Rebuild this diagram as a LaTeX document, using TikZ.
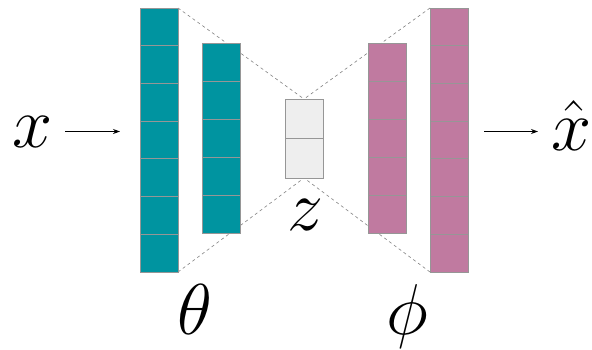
\documentclass[tikz,border=0pt]{standalone}
\usetikzlibrary{calc,backgrounds,arrows.meta}
\definecolor{encc}{RGB}{0,148,160}
\definecolor{decc}{RGB}{192,122,160}
\definecolor{zc}{RGB}{238,238,238}
\definecolor{edgec}{RGB}{150,150,150}
\begin{document}
\begin{tikzpicture}[x=1pt,y=-1pt,
  col/.style={draw=edgec, line width=0.9pt, minimum width=38pt, inner sep=0pt, outer sep=0pt},
  div/.style={draw=edgec, line width=0.9pt},
  dashline/.style={draw=gray, dashed, dash pattern=on 3pt off 3pt, line width=0.6pt},
  arr/.style={-{Stealth[length=7pt,width=5pt]}, line width=0.8pt},
  lbl/.style={inner sep=0pt, outer sep=0pt, font=\Huge, scale=2.894, anchor=base}]
\useasboundingbox (0,0) rectangle (592,349);
% columns
\node[col, fill=encc, minimum height=264pt] (enc1) at (159,140) {};
\node[col, fill=encc, minimum height=190pt] (enc2) at (221,138) {};
\node[col, fill=zc, minimum height=79pt] (zb) at (304,138.5) {};
\node[col, fill=decc, minimum height=190pt] (dec2) at (387,138) {};
\node[col, fill=decc, minimum height=264pt] (dec1) at (449,140) {};
% dividers
\foreach \i in {1,...,6}{
  \draw[div] ($(enc1.north west)!\i/7!(enc1.south west)$) -- ($(enc1.north east)!\i/7!(enc1.south east)$);
  \draw[div] ($(dec1.north west)!\i/7!(dec1.south west)$) -- ($(dec1.north east)!\i/7!(dec1.south east)$);
}
\foreach \i in {1,...,4}{
  \draw[div] ($(enc2.north west)!\i/5!(enc2.south west)$) -- ($(enc2.north east)!\i/5!(enc2.south east)$);
  \draw[div] ($(dec2.north west)!\i/5!(dec2.south west)$) -- ($(dec2.north east)!\i/5!(dec2.south east)$);
}
\draw[div] (zb.west) -- (zb.east);
% dashed funnel lines
\begin{scope}[on background layer]
  \draw[dashline] (enc1.north east) -- (zb.north);
  \draw[dashline] (enc1.south east) -- (zb.south);
  \draw[dashline] (dec1.north west) -- (zb.north);
  \draw[dashline] (dec1.south west) -- (zb.south);
\end{scope}
% labels
\node[lbl] (x) at (33,147) {$x$};
\node[lbl] (xh) at (572,150) {$\hat{x}$};
\node[lbl] (z) at (305,230) {$z$};
\node[lbl] (th) at (195,334) {$\theta$};
\node[lbl] (ph) at (407,334) {$\phi$};
% arrows
\draw[arr] ([xshift=12pt]x.east) -- ([xshift=-20pt]x.east -| enc1.west);
\draw[arr] ([xshift=16pt]x.east -| dec1.east) -- ([xshift=-14pt]x.east -| xh.west);
\end{tikzpicture}
\end{document}
